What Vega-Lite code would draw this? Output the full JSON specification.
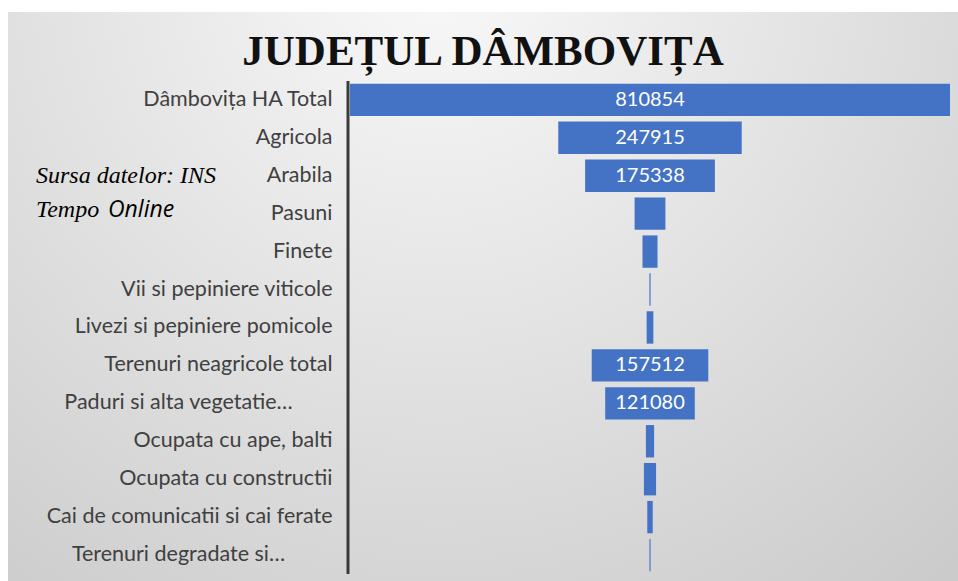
{
  "$schema": "https://vega.github.io/schema/vega-lite/v6.json",
  "width": 950,
  "height": 569,
  "padding": {"left": 8, "top": 12, "right": 0, "bottom": 0},
  "background": "#ffffff",
  "view": {
    "stroke": null,
    "fill": {
      "gradient": "radial",
      "x1": 0.45, "y1": 0.15, "r1": 0,
      "x2": 0.45, "y2": 0.15, "r2": 1,
      "stops": [
        {"offset": 0, "color": "#f9f9f9"},
        {"offset": 1, "color": "#c2c2c2"}
      ]
    }
  },
  "title": {
    "text": "JUDEȚUL DÂMBOVIȚA",
    "font": "Liberation Serif",
    "fontSize": 43,
    "fontWeight": "bold",
    "color": "#111111",
    "anchor": "middle",
    "baseline": "alphabetic",
    "offset": -96
  },
  "data": {
    "values": [
      {"categorie": "Dâmbovița HA Total", "suprafata": 810854},
      {"categorie": "Agricola", "suprafata": 247915},
      {"categorie": "Arabila", "suprafata": 175338},
      {"categorie": "Pasuni", "suprafata": 41600},
      {"categorie": "Finete", "suprafata": 20300},
      {"categorie": "Vii si pepiniere viticole", "suprafata": 1600},
      {"categorie": "Livezi si pepiniere pomicole", "suprafata": 9077},
      {"categorie": "Terenuri neagricole total", "suprafata": 157512},
      {"categorie": "Paduri si alta vegetatie…", "suprafata": 121080},
      {"categorie": "Ocupata cu ape, balti", "suprafata": 11100},
      {"categorie": "Ocupata cu constructii", "suprafata": 16400},
      {"categorie": "Cai de comunicatii si cai ferate", "suprafata": 7400},
      {"categorie": "Terenuri degradate si…", "suprafata": 1532}
    ]
  },
  "encoding": {
    "y": {
      "field": "categorie",
      "type": "nominal",
      "sort": null,
      "scale": {"paddingInner": 0, "paddingOuter": 1.0867, "align": 0.908},
      "axis": {
        "orient": "left",
        "offset": -340,
        "title": null,
        "domain": false,
        "ticks": false,
        "grid": false,
        "labelFont": "Lato",
        "labelFontSize": 21.5,
        "labelColor": "#404040",
        "labelLimit": 400,
        "labelAlign": {
          "condition": {"test": "indexof(datum.value, '…') >= 0", "value": "center"},
          "value": "right"
        },
        "labelPadding": {
          "condition": {"test": "indexof(datum.value, '…') >= 0", "value": 170},
          "value": 16
        }
      }
    }
  },
  "layer": [
    {
      "mark": {"type": "bar", "color": "#4472C4", "height": {"band": 0.853}},
      "encoding": {
        "x": {
          "field": "suprafata",
          "type": "quantitative",
          "stack": "center",
          "scale": {"domain": [-462186, 821665], "nice": false, "zero": false},
          "axis": null
        }
      }
    },
    {
      "transform": [{"filter": "datum.suprafata > 100000"}],
      "mark": {"type": "text", "color": "#ffffff", "font": "Lato", "fontSize": 20, "baseline": "middle", "align": "center"},
      "encoding": {
        "x": {"datum": 405427, "type": "quantitative"},
        "text": {"field": "suprafata", "type": "quantitative", "format": "d"}
      }
    },
    {
      "data": {"values": [{}]},
      "mark": {"type": "rule", "color": "#3a3a3a", "strokeWidth": 3, "xOffset": -2},
      "encoding": {
        "x": {"datum": 0, "type": "quantitative"},
        "y": {"datum": "Dâmbovița HA Total", "bandPosition": 0},
        "y2": {"datum": "Terenuri degradate si…", "bandPosition": 1}
      }
    },
    {
      "data": {"values": [{}]},
      "mark": {"type": "text", "font": "Liberation Serif", "fontStyle": "italic", "fontWeight": "normal", "fontSize": 24, "color": "#000000", "align": "left", "baseline": "middle"},
      "encoding": {
        "x": {"datum": -424346, "type": "quantitative"},
        "y": {"datum": "Arabila"},
        "text": {"value": "Sursa datelor: INS"}
      }
    },
    {
      "data": {"values": [{}]},
      "mark": {"type": "text", "font": "Liberation Serif", "fontStyle": "italic", "fontWeight": "normal", "fontSize": 24, "color": "#000000", "align": "left", "baseline": "middle", "yOffset": -4},
      "encoding": {
        "x": {"datum": -424346, "type": "quantitative"},
        "y": {"datum": "Pasuni"},
        "text": {"value": "Tempo"}
      }
    },
    {
      "data": {"values": [{}]},
      "mark": {"type": "text", "font": "Open Sans", "fontStyle": "italic", "fontWeight": "normal", "fontSize": 23, "color": "#000000", "align": "left", "baseline": "middle", "yOffset": -4},
      "encoding": {
        "x": {"datum": -327044, "type": "quantitative"},
        "y": {"datum": "Pasuni"},
        "text": {"value": "Online"}
      }
    }
  ]
}
